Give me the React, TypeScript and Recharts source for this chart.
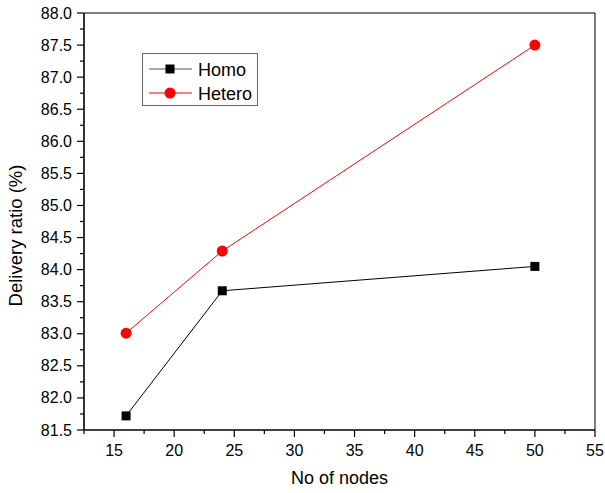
import React from "react";
import {
  LineChart,
  Line,
  XAxis,
  YAxis,
  Label,
  Legend,
  ReferenceLine,
} from "recharts";

const nodes = [16, 24, 50];
const homo = [81.72, 83.67, 84.05];
const hetero = [83.01, 84.29, 87.5];

const xMajor = [15, 20, 25, 30, 35, 40, 45, 50, 55];
const xMinor = [12.5, 17.5, 22.5, 27.5, 32.5, 37.5, 42.5, 47.5, 52.5];
const yMajor = [81.5, 82, 82.5, 83, 83.5, 84, 84.5, 85, 85.5, 86, 86.5, 87, 87.5, 88];
const yMinor = [81.75, 82.25, 82.75, 83.25, 83.75, 84.25, 84.75, 85.25, 85.75, 86.25, 86.75, 87.25, 87.75];

const rows = nodes.map((n, i) => ({ nodes: n, homo: homo[i], hetero: hetero[i] }));

const FONT = "Arial, 'Liberation Sans', sans-serif";

const series = [
  { key: "homo", name: "Homo", color: "#000000", legendLine: "#555555", shape: "square" },
  { key: "hetero", name: "Hetero", color: "#ff0000", legendLine: "#ff0000", shape: "circle" },
];

function Marker({ cx, cy, shape, color }: any) {
  if (cx == null || cy == null) return null;
  if (shape === "square") {
    return <rect x={cx - 4.5} y={cy - 4.5} width={9} height={9} fill={color} />;
  }
  return <circle cx={cx} cy={cy} r={5.5} fill={color} />;
}

function XTick({ x, y, payload }: any) {
  const major = xMajor.includes(payload.value);
  return (
    <g>
      <line x1={x} x2={x} y1={y} y2={y + (major ? 7 : 4)} stroke="#000" strokeWidth={1.2} />
      {major && (
        <text x={x} y={y + 26} textAnchor="middle" fontSize={16} fontFamily={FONT} fill="#000">
          {payload.value}
        </text>
      )}
    </g>
  );
}

function YTick({ x, y, payload }: any) {
  const major = yMajor.includes(payload.value);
  return (
    <g>
      <line x1={x - (major ? 7 : 4)} x2={x} y1={y} y2={y} stroke="#000" strokeWidth={1.2} />
      {major && (
        <text x={x - 12} y={y + 5.5} textAnchor="end" fontSize={16} fontFamily={FONT} fill="#000">
          {payload.value.toFixed(1)}
        </text>
      )}
    </g>
  );
}

function LegendBox() {
  return (
    <div
      style={{
        border: "1px solid #666",
        width: 114,
        height: 51,
        boxSizing: "content-box",
        background: "#fff",
      }}
    >
      <svg width={114} height={51}>
        {series.map((s, i) => {
          const cy = 15 + i * 24;
          return (
            <g key={s.key}>
              <line x1={6} x2={49} y1={cy} y2={cy} stroke={s.legendLine} strokeWidth={1.2} />
              <Marker cx={27} cy={cy} shape={s.shape} color={s.color} />
              <text x={55} y={cy + 6.5} fontSize={18} fontFamily={FONT} fill="#000">
                {s.name}
              </text>
            </g>
          );
        })}
      </svg>
    </div>
  );
}

export default function App() {
  return (
    <div style={{ position: "absolute", left: 0, top: 0, background: "#fff" }}>
      <LineChart
        width={605}
        height={493}
        data={rows}
        margin={{ top: 13, right: 10, bottom: 23, left: 8 }}
      >
        <XAxis
          dataKey="nodes"
          type="number"
          domain={[12.5, 55]}
          ticks={[...xMinor, ...xMajor].sort((a, b) => a - b)}
          interval={0}
          tickSize={0}
          tickMargin={0}
          tick={<XTick />}
          axisLine={{ stroke: "#000", strokeWidth: 1.6 }}
          height={40}
          allowDataOverflow
        >
          <Label
            content={({ viewBox }: any) => (
              <text
                x={viewBox.x + viewBox.width / 2}
                y={viewBox.y + 54}
                textAnchor="middle"
                fontSize={18}
                fontFamily={FONT}
                fill="#000"
              >
                No of nodes
              </text>
            )}
          />
        </XAxis>
        <YAxis
          type="number"
          domain={[81.5, 88]}
          ticks={[...yMinor, ...yMajor].sort((a, b) => a - b)}
          interval={0}
          tickSize={0}
          tickMargin={0}
          tick={<YTick />}
          axisLine={{ stroke: "#000", strokeWidth: 1.6 }}
          width={76}
          allowDataOverflow
        >
          <Label
            content={({ viewBox }: any) => {
              const cx = 15;
              const cy = viewBox.y + viewBox.height / 2 + 14;
              return (
                <text
                  x={cx}
                  y={cy}
                  transform={`rotate(-90, ${cx}, ${cy})`}
                  textAnchor="middle"
                  dominantBaseline="central"
                  fontSize={18.5}
                  fontFamily={FONT}
                  fill="#000"
                >
                  Delivery ratio (%)
                </text>
              );
            }}
          />
        </YAxis>
        <ReferenceLine y={88} stroke="#000" strokeWidth={1} />
        <ReferenceLine x={55} stroke="#000" strokeWidth={1} />
        <Legend
          layout="horizontal"
          verticalAlign="middle"
          align="center"
          content={() => <LegendBox />}
          wrapperStyle={{ left: 142, top: 53, width: 116, height: 53 }}
        />
        {series.map((s) => (
          <Line
            key={s.key}
            dataKey={s.key}
            name={s.name}
            stroke={s.color}
            strokeWidth={1}
            isAnimationActive={false}
            dot={(p: any) => <Marker key={`${s.key}-${p.index}`} cx={p.cx} cy={p.cy} shape={s.shape} color={s.color} />}
            activeDot={false}
          />
        ))}
      </LineChart>
    </div>
  );
}
